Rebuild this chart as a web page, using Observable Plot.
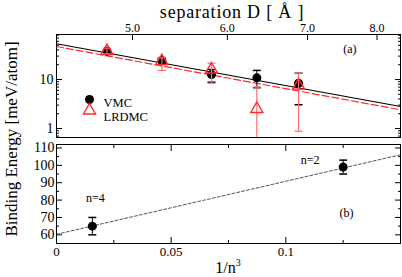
<!DOCTYPE html>
<html>
<head>
<meta charset="utf-8">
<script src="https://cdn.jsdelivr.net/npm/d3@7"></script>
<script src="https://cdn.jsdelivr.net/npm/@observablehq/plot@0.6"></script>
<style>
  html, body { margin: 0; padding: 0; background: #fff; }
  #wrap { position: relative; width: 402px; height: 277px; overflow: hidden; font-family: "Liberation Serif", serif; color: #000; }
  #wrap svg { position: absolute; left: 0; top: 0; }
  .lbl { position: absolute; white-space: nowrap; line-height: 1; }
</style>
</head>
<body>
<div id="wrap">
  <div class="lbl" id="topTitle" style="left:232px; top:12px; transform:translate(-50%,-50%); font-size:18px; letter-spacing:0.8px;">separation D [ Å ]</div>
  <div class="lbl" id="yTitle" style="left:11px; top:139px; transform:translate(-50%,-50%) rotate(-90deg); font-size:17px;">Binding Energy [meV/atom]</div>
  <div class="lbl" id="xTitle" style="left:228px; top:267px; transform:translate(-50%,-50%); font-size:16px;">1/n<sup style="font-size:10px; vertical-align:7px;">3</sup></div>
</div>
<script>
// ---- Panel (a): binding energy vs separation D (log-log) ----
const sepD = [4.76, 5.29, 5.82, 6.35, 6.88];
const vmcE = [37.8, 24.4, 12.6, 10.8, 8.4];
const vmcLo = [35, 22, 8.8, 6.8, 3.05];
const vmcHi = [41, 27, 16, 15.3, 13.4];
const lrdmcE = [38, 23.7, 16, 2.5, 7.5];
const lrdmcLo = [33.5, 15.3, 8.4, 0.01, 0.88];
const lrdmcHi = [43.6, 27.7, 21.5, 7, 13.4];
const fitD = [4.32, 8.37];
const fitVMC = [53.6, 2.81];
const fitLRDMC = [47.1, 2.41];
const topTicks = [5, 6, 7, 8];
const aYMajor = [1, 10];
const aYMinor = [0.7, 0.8, 0.9, 2, 3, 4, 5, 6, 7, 8, 9, 20, 30, 40, 50, 60, 70, 80];

// ---- Panel (b): binding energy vs 1/n^3 ----
const nLabels = ["n=4", "n=2"];
const invN3 = [1 / 64, 1 / 8];
const bindE = [65, 99];
const bindErr = [5, 4];
const fitX = [0, 0.15];
const fitB = [60.3, 106.1];
const bXMajor = [0, 0.05, 0.1];
const bXMinor = [0.025, 0.075, 0.125];
const bYMajor = [60, 70, 80, 90, 100, 110];
const bYMinor = [65, 75, 85, 95, 105];

const L = Math.log10;
const vmcData = sepD.map((d, i) => ({D: L(d), E: vmcE[i], lo: vmcLo[i], hi: vmcHi[i]}));
const lrData = sepD.map((d, i) => ({D: L(d), E: lrdmcE[i], lo: lrdmcLo[i], hi: lrdmcHi[i]}));
const fitAData = fitD.map((d, i) => ({D: L(d), vmc: fitVMC[i], lr: fitLRDMC[i]}));
const bData = invN3.map((x, i) => ({x, E: bindE[i], lo: bindE[i] - bindErr[i], hi: bindE[i] + bindErr[i], label: nLabels[i]}));
const fitBData = fitX.map((x, i) => ({x, E: fitB[i]}));

const cap = { draw(ctx, size) { const w = Math.sqrt(size / Math.PI); ctx.moveTo(-w, 0); ctx.lineTo(w, 0); } };
const RED = "#ff2a2a";
const RED_ERR = "#ff6a6a";
const W = 402, H = 277;
const baseStyle = {fontFamily: "Liberation Serif, serif", fontSize: "14px", background: "transparent", overflow: "visible", color: "black"};

const plotA = Plot.plot({
  width: W, height: H,
  marginLeft: 56, marginRight: 2, marginTop: 34, marginBottom: 140,
  style: baseStyle,
  x: {type: "linear", domain: [L(fitD[0]), L(fitD[1])]},
  y: {type: "log", domain: [0.655, 82.8]},
  marks: [
    Plot.axisX(topTicks.map(L), {anchor: "top", tickSize: -5, tickPadding: 8, tickFormat: d => (10 ** d).toFixed(1), fontSize: 12, label: null}),
    Plot.axisY(aYMajor, {anchor: "left", tickSize: -6, tickPadding: 9, tickFormat: d => String(d), fontSize: 14, label: null}),
    Plot.axisY(aYMinor, {anchor: "left", tickSize: -3, tickFormat: () => "", label: null}),
    Plot.axisY(aYMajor, {anchor: "right", tickSize: -6, tickFormat: () => "", label: null}),
    Plot.axisY(aYMinor, {anchor: "right", tickSize: -3, tickFormat: () => "", label: null}),
    Plot.line(fitAData, {x: "D", y: "vmc", stroke: "black", strokeWidth: 1.2}),
    Plot.line(fitAData, {x: "D", y: "lr", stroke: RED, strokeWidth: 1.2, strokeDasharray: "7,3"}),
    Plot.ruleX(vmcData, {x: "D", y1: "lo", y2: "hi", stroke: "black", strokeWidth: 1, clip: true}),
    Plot.dot(vmcData, {x: "D", y: "lo", symbol: cap, r: 4, stroke: "black", fill: "none", clip: true}),
    Plot.dot(vmcData, {x: "D", y: "hi", symbol: cap, r: 4, stroke: "black", fill: "none", clip: true}),
    Plot.dot(vmcData, {x: "D", y: "E", r: 4.5, fill: "black", stroke: "none"}),
    Plot.ruleX(lrData, {x: "D", y1: "lo", y2: "hi", stroke: RED_ERR, strokeWidth: 1.2, clip: true}),
    Plot.dot(lrData, {x: "D", y: "lo", symbol: cap, r: 4, stroke: RED_ERR, strokeWidth: 1.2, fill: "none", clip: true}),
    Plot.dot(lrData, {x: "D", y: "hi", symbol: cap, r: 4, stroke: RED_ERR, strokeWidth: 1.2, fill: "none", clip: true}),
    Plot.dot(lrData, {x: "D", y: "E", symbol: "triangle", r: 4.5, stroke: RED, strokeWidth: 1.4, fill: "none"}),
    // legend
    Plot.dot([0], {frameAnchor: "top-left", dx: 33, dy: 65, r: 4.5, fill: "black", stroke: "none"}),
    Plot.dot([0], {frameAnchor: "top-left", dx: 33, dy: 76, symbol: "triangle", r: 4.5, stroke: RED, strokeWidth: 1.4, fill: "none"}),
    Plot.text(["VMC"], {frameAnchor: "top-left", dx: 47, dy: 64, text: d => d, textAnchor: "start", fontSize: 12.5}),
    Plot.text(["LRDMC"], {frameAnchor: "top-left", dx: 47, dy: 78, text: d => d, textAnchor: "start", fontSize: 12.5}),
    Plot.text(["(a)"], {frameAnchor: "top-right", dx: -44, dy: 10, text: d => d, fontSize: 12}),
    Plot.frame({stroke: "black", strokeWidth: 1})
  ]
});

const plotB = Plot.plot({
  width: W, height: H,
  marginLeft: 56, marginRight: 2, marginTop: 144, marginBottom: 34,
  style: baseStyle,
  x: {domain: [0, 0.15]},
  y: {domain: [55, 112]},
  marks: [
    Plot.axisX(bXMajor, {anchor: "bottom", tickSize: -6, tickPadding: 9, tickFormat: d => d === 0 ? "0" : String(d), fontSize: 13, label: null}),
    Plot.axisX(bXMinor, {anchor: "bottom", tickSize: -3, tickFormat: () => "", label: null}),
    Plot.axisX(bXMajor, {anchor: "top", tickSize: -6, tickFormat: () => "", label: null}),
    Plot.axisX(bXMinor, {anchor: "top", tickSize: -3, tickFormat: () => "", label: null}),
    Plot.axisY(bYMajor, {anchor: "left", tickSize: -6, tickPadding: 8, tickFormat: d => String(d), fontSize: 14, label: null}),
    Plot.axisY(bYMinor, {anchor: "left", tickSize: -3, tickFormat: () => "", label: null}),
    Plot.axisY(bYMajor, {anchor: "right", tickSize: -6, tickFormat: () => "", label: null}),
    Plot.axisY(bYMinor, {anchor: "right", tickSize: -3, tickFormat: () => "", label: null}),
    Plot.line(fitBData, {x: "x", y: "E", stroke: "#555", strokeWidth: 1, strokeDasharray: "3,2"}),
    Plot.ruleX(bData, {x: "x", y1: "lo", y2: "hi", stroke: "black", strokeWidth: 1}),
    Plot.dot(bData, {x: "x", y: "lo", symbol: cap, r: 4, stroke: "black", fill: "none"}),
    Plot.dot(bData, {x: "x", y: "hi", symbol: cap, r: 4, stroke: "black", fill: "none"}),
    Plot.dot(bData, {x: "x", y: "E", r: 4.5, fill: "black", stroke: "none"}),
    Plot.text(bData.filter(d => d.label === "n=4"), {x: "x", y: "E", text: "label", dx: 3, dy: -28, fontSize: 12}),
    Plot.text(bData.filter(d => d.label === "n=2"), {x: "x", y: "E", text: "label", dx: -33, dy: -7, fontSize: 12}),
    Plot.text(["(b)"], {frameAnchor: "right", dx: -47, dy: 19, text: d => d, fontSize: 12}),
    Plot.frame({stroke: "black", strokeWidth: 1})
  ]
});

const wrap = document.getElementById("wrap");
wrap.appendChild(plotA);
wrap.appendChild(plotB);
</script>
</body>
</html>
